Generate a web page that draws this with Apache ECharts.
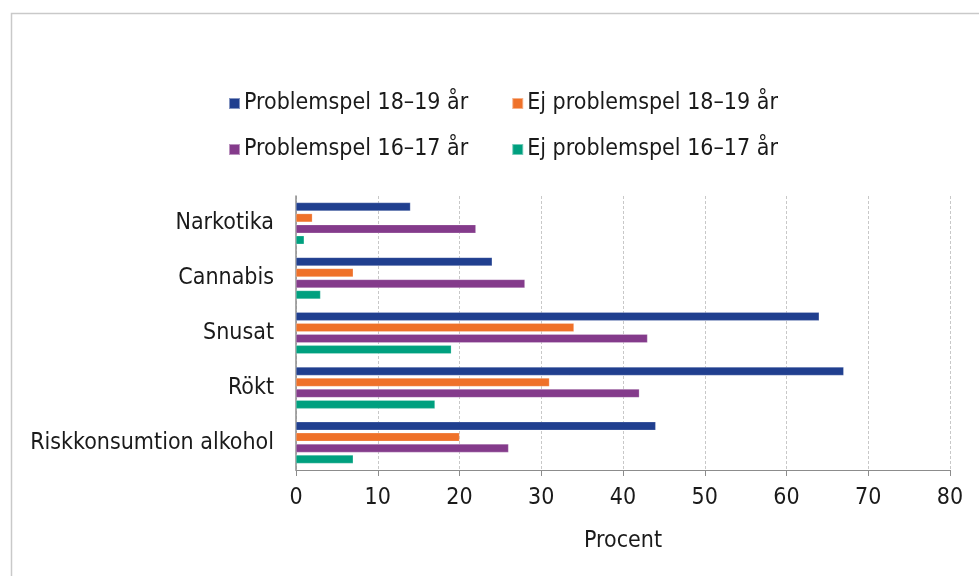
<!DOCTYPE html>
<html>
<head>
<meta charset="utf-8">
<script src="https://cdn.jsdelivr.net/npm/echarts@6/dist/echarts.min.js"></script>
<style>
html,body{margin:0;padding:0;background:#fff;}
#chart{width:979px;height:576px;}
</style>
</head>
<body>
<div id="chart"></div>
<script>
const categories = ['Narkotika', 'Cannabis', 'Snusat', 'Rökt', 'Riskkonsumtion alkohol'];
const seriesNames = ['Problemspel 18–19 år', 'Ej problemspel 18–19 år', 'Problemspel 16–17 år', 'Ej problemspel 16–17 år'];
const problem1819 = [14, 24, 64, 67, 44];
const ejProblem1819 = [2, 7, 34, 31, 20];
const problem1617 = [22, 28, 43, 42, 26];
const ejProblem1617 = [1, 3, 19, 17, 7];
const xTicks = [0, 10, 20, 30, 40, 50, 60, 70, 80];
const colors = ['#203f8f', '#ef7129', '#843b8b', '#00a07f'];

const FONT = '"DejaVu Sans Condensed", "DejaVu Sans"';
const FS = 23;
const values = [problem1819, ejProblem1819, problem1617, ejProblem1617];

const chart = echarts.init(document.getElementById('chart'), null, {renderer: 'canvas'});
chart.setOption({
  animation: false,
  backgroundColor: '#fff',
  textStyle: {fontFamily: FONT},
  graphic: [{
    type: 'rect', left: 9, top: 11, silent: true,
    shape: {width: 1000, height: 1000},
    style: {fill: 'none', stroke: '#c9c9c9', lineWidth: 1.5}
  }],
  legend: [{
    data: [seriesNames[0], seriesNames[1]],
    left: 223, top: 87, itemWidth: 11, itemHeight: 11, itemGap: 43,
    icon: 'rect',
    textStyle: {fontFamily: FONT, fontSize: FS, color: '#1a1a1a', padding: [0,0,0,-1]}
  }, {
    data: [seriesNames[2], seriesNames[3]],
    left: 223, top: 133, itemWidth: 11, itemHeight: 11, itemGap: 43,
    icon: 'rect',
    textStyle: {fontFamily: FONT, fontSize: FS, color: '#1a1a1a', padding: [0,0,0,-1]}
  }],
  grid: {left: 296, right: 29, top: 196, bottom: 106, containLabel: false},
  xAxis: {
    type: 'value', min: 0, max: 80, interval: 10,
    name: 'Procent', nameLocation: 'middle', nameGap: 60,
    nameTextStyle: {fontFamily: FONT, fontSize: FS, color: '#1a1a1a'},
    axisLine: {show: true, lineStyle: {color: '#8c8c8c', width: 1}},
    axisTick: {show: true, length: 6, lineStyle: {color: '#8c8c8c'}},
    axisLabel: {fontFamily: FONT, fontSize: FS, color: '#1a1a1a', margin: 17,
      formatter: v => xTicks.includes(v) ? String(v) : ''},
    splitLine: {show: true, lineStyle: {color: '#c8c8c8', type: [3, 2], width: 1}}
  },
  yAxis: {
    type: 'category', data: categories, inverse: true,
    axisLine: {show: true, lineStyle: {color: '#8c8c8c', width: 1.5}},
    axisTick: {show: false},
    axisLabel: {fontFamily: FONT, fontSize: FS, color: '#1a1a1a', margin: 22}
  },
  series: values.map((v, i) => ({
    name: seriesNames[i], type: 'bar', data: v,
    barWidth: 8.5, barGap: '30%',
    itemStyle: {color: colors[i], borderColor: 'rgba(255,255,255,0.45)', borderWidth: 0.5}
  }))
});
</script>
</body>
</html>
